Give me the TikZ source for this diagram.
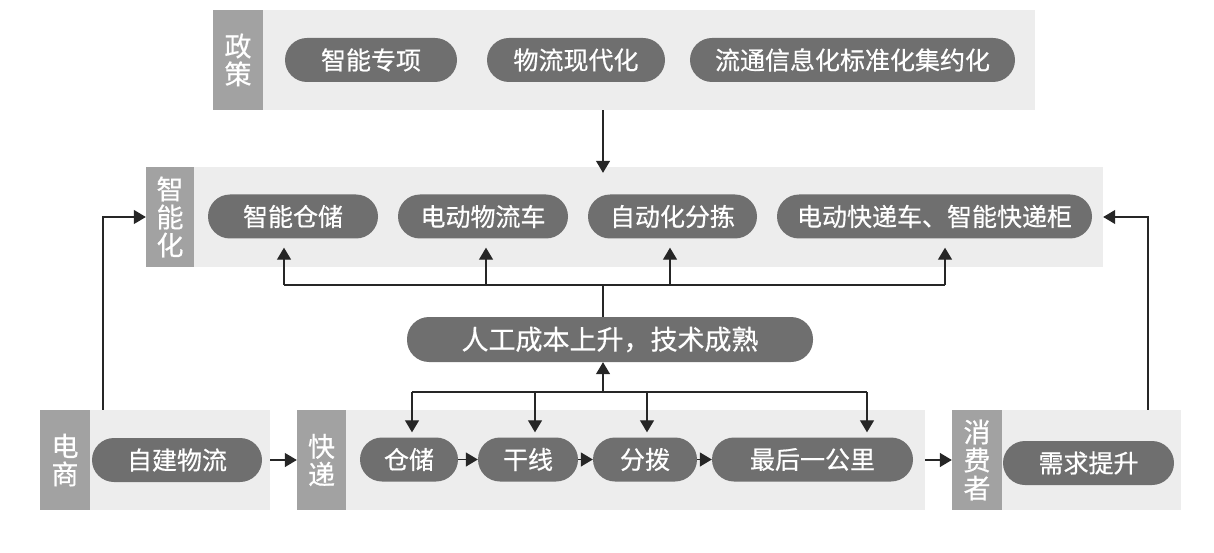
\documentclass[tikz,border=0pt]{standalone}
\usepackage{fontspec}
\setmainfont{Noto Sans CJK SC}
\newfontfamily\pillfont{Noto Sans CJK SC}[FakeBold=0.6]
\usetikzlibrary{arrows.meta, positioning}

\definecolor{panelbg}{RGB}{237,237,237}
\definecolor{stripgray}{RGB}{162,162,162}
\definecolor{pillgray}{RGB}{111,111,111}

\begin{document}
\begin{tikzpicture}[
    x=1pt, y=-1pt,
    panel/.style={fill=panelbg, inner sep=0pt, minimum width=#1, minimum height=100pt},
    strip/.style={fill=stripgray, text=white, inner sep=0pt, minimum width=#1, minimum height=100pt,
                  align=center, font=\pillfont\fontsize{27}{28}\selectfont},
    pill/.style={fill=pillgray, text=white, rounded corners=22pt, inner sep=0pt,
                 minimum width=#1, minimum height=44pt, font=\pillfont\fontsize{25}{30}\selectfont},
    line/.style={draw=black!85, line width=1.3pt},
    arrow/.style={line, -{Triangle[width=14pt,length=12pt]}}
]
\useasboundingbox (0,0) rectangle (1214,553);

% Panels
\node[panel=822] (policy) at (624,60) {};
\node[strip=50] (policyL) at (238,60) {政\\策};

\node[panel=957] (smart) at (624.5,217) {};
\node[strip=48] (smartL) at (170,217) {智\\能\\化};

\node[panel=230] (ecom) at (155,460) {};
\node[strip=50] (ecomL) at (65,460) {电\\商};

\node[panel=628] (express) at (611,460) {};
\node[strip=49] (expressL) at (321.5,460) {快\\递};

\node[panel=229] (consumer) at (1066.5,460) {};
\node[strip=50] (consumerL) at (977,460) {消\\费\\者};

% Pills
\node[pill=172] (p1) at (371,60) {智能专项};
\node[pill=178] (p2) at (576,60) {物流现代化};
\node[pill=325] (p3) at (852.5,60) {流通信息化标准化集约化};

\node[pill=170] (s1) at (293,216.5) {智能仓储};
\node[pill=170] (s2) at (483,216.5) {电动物流车};
\node[pill=169] (s3) at (672.5,216.5) {自动化分拣};
\node[pill=315] (s4) at (934.5,216.5) {电动快递车、智能快递柜};

\node[pill=406, minimum height=45pt, font=\pillfont\fontsize{27}{30}\selectfont] (mid) at (610,339.5) {人工成本上升，技术成熟};

\node[pill=170] (e1) at (177,460) {自建物流};
\node[pill=98] (k1) at (409,459.5) {仓储};
\node[pill=100] (k2) at (528,459.5) {干线};
\node[pill=104] (k3) at (645,459.5) {分拨};
\node[pill=201] (k4) at (812.5,459.5) {最后一公里};
\node[pill=171] (c1) at (1088.5,463) {需求提升};

% Bus points
\coordinate (busTop) at (603,285);
\coordinate (busBot) at (603,392);
\coordinate (r1) at (284,285);
\coordinate (r2) at (486,285);
\coordinate (r3) at (670,285);
\coordinate (r4) at (945,285);
\coordinate (d1) at (412,392);
\coordinate (d2) at (535,392);
\coordinate (d3) at (647,392);
\coordinate (d4) at (867,392);
\coordinate (fbL) at (103,217);
\coordinate (fbR) at (1148,217);

% Policy to smart
\draw[arrow] (policy.south -| busTop) -- ([yshift=-6pt]smart.north -| busTop);

% Mid pill up to smart pills
\draw[line] (mid.north -| busTop) -- (busTop);
\draw[line] (r1) -- (r4);
\foreach \r/\s in {r1/s1, r2/s2, r3/s3, r4/s4}
    \draw[arrow, shorten >=9pt] (\r) -- (\r |- \s.south);

% Express pills up to mid pill
\draw[arrow] (busBot) -- (mid.south -| busBot);
\draw[line] (d1) -- (d4);
\foreach \d/\k in {d1/k1, d2/k2, d3/k3, d4/k4}
    \draw[arrow, shorten >=5pt] (\d) -- (\d |- \k.north);

% Chain
\draw[arrow] (ecom.east) -- (express.west);
\draw[arrow] (k1) -- (k2);
\draw[arrow] (k2) -- (k3);
\draw[arrow] (k3) -- (k4);
\draw[arrow] (express.east) -- (consumer.west);

% Feedback
\draw[arrow] (ecom.north -| fbL) |- (smart.west);
\draw[arrow] (consumer.north -| fbR) |- (smart.east);

\end{tikzpicture}
\end{document}
